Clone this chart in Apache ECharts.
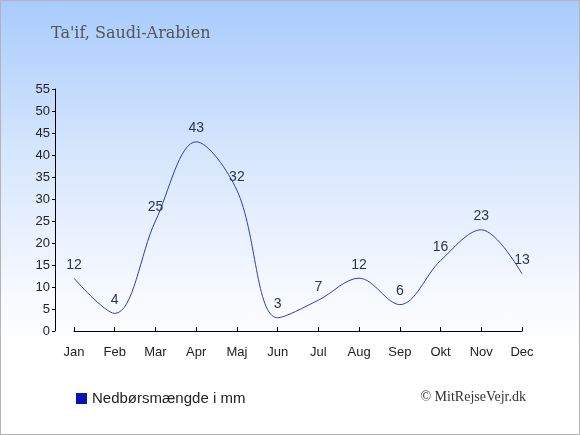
<!DOCTYPE html>
<html><head><meta charset="utf-8">
<script src="https://cdn.jsdelivr.net/npm/echarts@6/dist/echarts.min.js"></script>
<style>html,body{margin:0;padding:0;}#c{width:580px;height:435px;box-sizing:border-box;border:1px solid #b4b4b4;background:linear-gradient(to bottom,#a9cbfd 0%,#d6e6fd 35%,#f4f8ff 65%,#ffffff 80%,#ffffff 100%);}</style>
</head><body><div id="c"></div>
<script>
var categories = ['Jan','Feb','Mar','Apr','Maj','Jun','Jul','Aug','Sep','Okt','Nov','Dec'];
var precipitation = [12, 4, 25, 43, 32, 3, 7, 12, 6, 16, 23, 13];
var yTicks = {min: 0, max: 55, interval: 5};
var titleText = "Ta'if, Saudi-Arabien";
var seriesName = 'Nedbørsmængde i mm';
var copyright = '© MitRejseVejr.dk';

var chart = echarts.init(document.getElementById('c'), null, {renderer: 'canvas'});
chart.setOption({
  animation: false,
  backgroundColor: 'transparent',
  title: {text: titleText, left: 45, top: 20, textStyle: {fontFamily: 'DejaVu Serif', fontWeight: 'normal', fontSize: 16, color: '#555'}},
  grid: {left: 73, right: 57, top: 88, bottom: 103},
  legend: {
    left: 70, top: 385, icon: 'rect', itemWidth: 11, itemHeight: 11, itemGap: 6,
    textStyle: {fontFamily: 'Liberation Sans', fontSize: 15, color: '#222'},
    data: [{name: seriesName, itemStyle: {color: '#0a14b0', opacity: 1}}]
  },
  graphic: [{type: 'text', right: 53, top: 389, style: {text: copyright, font: '14px "Liberation Serif"', fill: '#333'}}],
  xAxis: {
    type: 'category', data: categories, boundaryGap: false, offset: 10,
    axisLine: {lineStyle: {color: '#000', width: 1}},
    axisTick: {inside: true, length: 4, lineStyle: {color: '#000'}},
    axisLabel: {color: '#222', fontFamily: 'Liberation Sans', fontSize: 13, margin: 5},
    splitLine: {show: false}
  },
  yAxis: {
    type: 'value', min: yTicks.min, max: yTicks.max, interval: yTicks.interval, offset: 19,
    axisLine: {show: true, lineStyle: {color: '#000', width: 1}},
    axisTick: {show: true, length: 3, lineStyle: {color: '#000'}},
    axisLabel: {color: '#222', fontFamily: 'Liberation Sans', fontSize: 13, margin: 5},
    splitLine: {show: false}
  },
  series: [{
    name: seriesName, type: 'line', data: precipitation, smooth: 0.35,
    showSymbol: true, symbol: 'circle', symbolSize: 1,
    lineStyle: {color: '#3038cc', width: 1},
    itemStyle: {color: 'rgba(0,0,0,0)', borderWidth: 0},
    label: {show: true, position: 'top', distance: 6, color: '#2a3550', fontFamily: 'Liberation Sans', fontSize: 14}
  }]
});
</script></body></html>
